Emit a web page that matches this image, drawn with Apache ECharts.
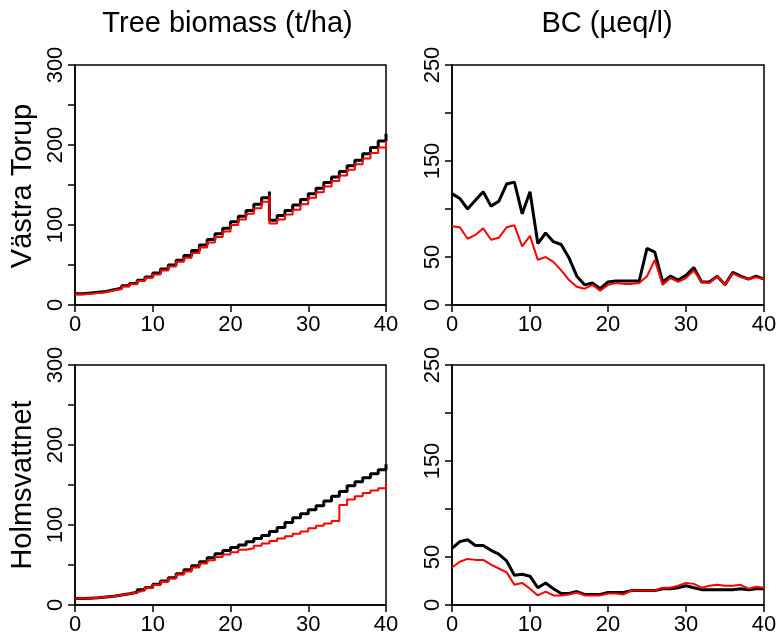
<!DOCTYPE html>
<html><head><meta charset="utf-8">
<script src="https://cdn.jsdelivr.net/npm/echarts@6/dist/echarts.min.js"></script>
<style>html,body{margin:0;padding:0;background:#fff}#c{width:777px;height:637px}</style>
</head><body><div id="c"></div><script>
// ---- data ----
const years = [0,1,2,3,4,5,6,7,8,9,10,11,12,13,14,15,16,17,18,19,20,21,22,23,24,25,26,27,28,29,30,31,32,33,34,35,36,37,38,39,40];
const colTitles = ['Tree biomass (t/ha)', 'BC (\u00b5eq/l)'];
const rowTitles = ['V\u00e4stra Torup', 'Holmsvattnet'];
const xTicks = [0, 10, 20, 30, 40];
const bioTickLabels = [0, 100, 200, 300];
const bcTickLabels = [0, 50, 150, 250];

// Västra Torup tree biomass (value after harvest at year 25; pre-harvest peak separate)
const vtHarvestYear = 25;
const vtBioBlackPeak = 142;
const vtBioRedPeak = 137;
const vtBioBlack = [14,15,16,17,19,21,24,27,31,35,40,45,50,56,62,68,75,82,89,96,104,111,118,126,134,106,112,118,125,132,139,146,153,160,167,174,181,189,197,205,214];
const vtBioRed   = [13,14,15,16,18,20,23,26,30,34,38,43,48,54,59,65,72,78,85,92,100,107,114,121,129,102,107,113,119,126,134,141,148,155,162,169,176,183,190,197,205];

// Västra Torup BC
const vtBcBlack = [116,111,100,109,118,103,108,126,128,95,118,64,75,66,63,49,30,21,23,17,24,25,25,25,25,59,55,24,30,26,31,39,24,24,30,21,34,30,27,30,27];
const vtBcRed   = [82,81,69,73,80,68,70,81,83,61,72,47,50,45,36,26,19,17,21,15,21,23,22,22,23,30,47,21,28,24,28,36,24,23,30,21,33,29,27,29,27];

// Holmsvattnet tree biomass
const hvBioBlack = [8,8.5,9,10,11,12.5,14,16,19,22,26,30,34,39,44,49,54,59,64,68,72,75,79,83,87,92,97,103,109,114,119,124,130,136,142,149,154,159,164,169,176];
const hvBioRed   = [8,8.5,9,10,11,12.5,14,16,18.5,21.5,25,29,33,38,42,47,52,56,60,63,66,69,71,74,77,80,83,86,89,92,96,99,102,105,125,132,136,140,143,146,153];

// Holmsvattnet BC
const hvBcBlack = [59,66,68,62,62,57,53,46,31,32,30,18,23,17,12,12,14,11,11,11,13,13,13,15,15,15,15,17,17,18,20,18,16,16,16,16,16,17,16,17,17];
const hvBcRed   = [39,45,48,47,47,42,38,34,21,23,17,10,14,10,10,11,13,10,10,10,12,12,11,15,15,15,15,18,18,20,23,22,18,20,21,20,20,21,17,19,18];

// ---- build ----
function pairs(vals, peakYear, peakVal) {
  const out = [];
  years.forEach((x, i) => {
    if (peakYear !== undefined && x === peakYear) out.push([x, peakVal]);
    out.push([x, vals[i]]);
  });
  return out;
}

const FONT = '"Liberation Sans", Arial, sans-serif';
const grids = [
  {left: 75, top: 65, width: 311, height: 240},
  {left: 452, top: 65, width: 312, height: 240},
  {left: 75, top: 365, width: 311, height: 240},
  {left: 452, top: 365, width: 312, height: 240}
].map(g => Object.assign({show: true, borderColor: '#000', borderWidth: 1.5, backgroundColor: 'transparent', outerBoundsMode: 'none', containLabel: false}, g));

function xAx(gi) {
  return {
    type: 'value', gridIndex: gi, min: 0, max: 40, interval: 10,
    axisLine: {show: true, onZero: false, lineStyle: {color: '#000', width: 1.5}},
    axisTick: {show: true, inside: false, length: 7, lineStyle: {color: '#000', width: 1.5}},
    splitLine: {show: false},
    axisLabel: {show: true, margin: 9, color: '#000', fontSize: 22, fontFamily: FONT,
      formatter: v => xTicks.includes(v) ? String(v) : ''}
  };
}
function yAx(gi, max, shown) {
  return {
    type: 'value', gridIndex: gi, min: 0, max: max, interval: 50,
    axisLine: {show: true, onZero: false, lineStyle: {color: '#000', width: 1.5}},
    axisTick: {show: true, inside: false, length: 7, lineStyle: {color: '#000', width: 1.5}},
    splitLine: {show: false},
    axisLabel: {show: true, rotate: 90, margin: 8, color: '#000', fontSize: 22, fontFamily: FONT,
      showMinLabel: true, showMaxLabel: true,
      formatter: v => shown.includes(v) ? String(v) : ''}
  };
}

function line(gi, data, color, width, stepped) {
  return {
    type: 'line', xAxisIndex: gi, yAxisIndex: gi, data: data,
    step: stepped ? 'end' : false,
    showSymbol: false, symbol: 'none', silent: true,
    lineStyle: {color: color, width: width}, z: color === '#ff0000' ? 3 : 2
  };
}

const chart = echarts.init(document.getElementById('c'), null, {renderer: 'canvas'});
chart.setOption({
  animation: false,
  backgroundColor: '#fff',
  grid: grids,
  xAxis: [xAx(0), xAx(1), xAx(2), xAx(3)],
  yAxis: [yAx(0, 300, bioTickLabels), yAx(1, 250, bcTickLabels), yAx(2, 300, bioTickLabels), yAx(3, 250, bcTickLabels)],
  series: [
    line(0, pairs(vtBioBlack, vtHarvestYear, vtBioBlackPeak), '#000000', 3, true),
    line(0, pairs(vtBioRed, vtHarvestYear, vtBioRedPeak), '#ff0000', 2, true),
    line(1, pairs(vtBcBlack), '#000000', 3, false),
    line(1, pairs(vtBcRed), '#ff0000', 2, false),
    line(2, pairs(hvBioBlack), '#000000', 3, true),
    line(2, pairs(hvBioRed), '#ff0000', 2, true),
    line(3, pairs(hvBcBlack), '#000000', 3, false),
    line(3, pairs(hvBcRed), '#ff0000', 2, false)
  ],
  graphic: [
    {type: 'text', x: 227.5, y: 24, style: {text: colTitles[0], fill: '#000', fontSize: 29, fontFamily: FONT, align: 'center', verticalAlign: 'middle'}},
    {type: 'text', x: 607, y: 24, style: {text: colTitles[1], fill: '#000', fontSize: 29, fontFamily: FONT, align: 'center', verticalAlign: 'middle'}},
    {type: 'text', x: 23, y: 186, rotation: Math.PI / 2, style: {text: rowTitles[0], fill: '#000', fontSize: 29, fontFamily: FONT, align: 'center', verticalAlign: 'middle'}},
    {type: 'text', x: 23, y: 485, rotation: Math.PI / 2, style: {text: rowTitles[1], fill: '#000', fontSize: 29, fontFamily: FONT, align: 'center', verticalAlign: 'middle'}}
  ]
});
</script></body></html>
